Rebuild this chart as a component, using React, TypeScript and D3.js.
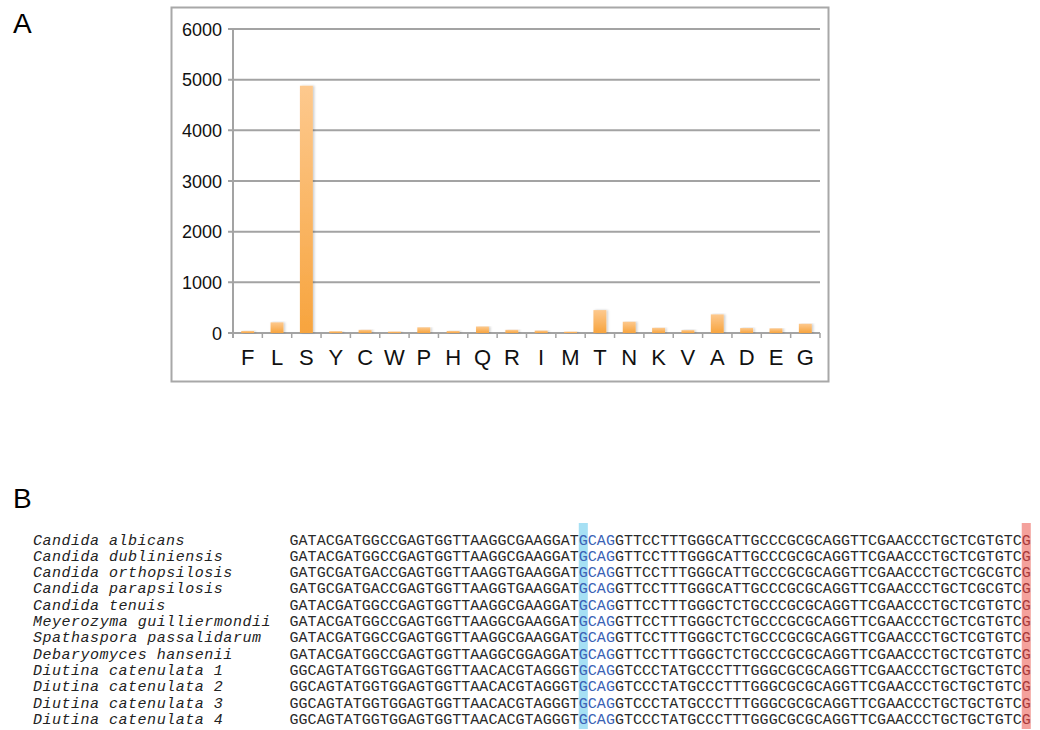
import React from "react";
import * as d3 from "d3";

const categories = ["F","L","S","Y","C","W","P","H","Q","R","I","M","T","N","K","V","A","D","E","G"];
const counts = [40,210,4880,35,62,28,112,40,128,62,48,26,452,222,102,57,367,98,92,182];
const yTicks = [0,1000,2000,3000,4000,5000,6000];

const species = [
  "Candida albicans",
  "Candida dubliniensis",
  "Candida orthopsilosis",
  "Candida parapsilosis",
  "Candida tenuis",
  "Meyerozyma guilliermondii",
  "Spathaspora passalidarum",
  "Debaryomyces hansenii",
  "Diutina catenulata 1",
  "Diutina catenulata 2",
  "Diutina catenulata 3",
  "Diutina catenulata 4",
];
const sequences = [
  "GATACGATGGCCGAGTGGTTAAGGCGAAGGATGCAGGTTCCTTTGGGCATTGCCCGCGCAGGTTCGAACCCTGCTCGTGTCG",
  "GATACGATGGCCGAGTGGTTAAGGCGAAGGATGCAGGTTCCTTTGGGCATTGCCCGCGCAGGTTCGAACCCTGCTCGTGTCG",
  "GATGCGATGACCGAGTGGTTAAGGTGAAGGATGCAGGTTCCTTTGGGCATTGCCCGCGCAGGTTCGAACCCTGCTCGCGTCG",
  "GATGCGATGACCGAGTGGTTAAGGTGAAGGATGCAGGTTCCTTTGGGCATTGCCCGCGCAGGTTCGAACCCTGCTCGCGTCG",
  "GATACGATGGCCGAGTGGTTAAGGCGAAGGATGCAGGTTCCTTTGGGCTCTGCCCGCGCAGGTTCGAACCCTGCTCGTGTCG",
  "GATACGATGGCCGAGTGGTTAAGGCGAAGGATGCAGGTTCCTTTGGGCTCTGCCCGCGCAGGTTCGAACCCTGCTCGTGTCG",
  "GATACGATGGCCGAGTGGTTAAGGCGAAGGATGCAGGTTCCTTTGGGCTCTGCCCGCGCAGGTTCGAACCCTGCTCGTGTCG",
  "GATACGATGGCCGAGTGGTTAAGGCGGAGGATGCAGGTTCCTTTGGGCTCTGCCCGCGCAGGTTCGAACCCTGCTCGTGTCG",
  "GGCAGTATGGTGGAGTGGTTAACACGTAGGGTGCAGGTCCCTATGCCCTTTGGGCGCGCAGGTTCGAACCCTGCTGCTGTCG",
  "GGCAGTATGGTGGAGTGGTTAACACGTAGGGTGCAGGTCCCTATGCCCTTTGGGCGCGCAGGTTCGAACCCTGCTGCTGTCG",
  "GGCAGTATGGTGGAGTGGTTAACACGTAGGGTGCAGGTCCCTATGCCCTTTGGGCGCGCAGGTTCGAACCCTGCTGCTGTCG",
  "GGCAGTATGGTGGAGTGGTTAACACGTAGGGTGCAGGTCCCTATGCCCTTTGGGCGCGCAGGTTCGAACCCTGCTGCTGTCG",
];
const blueCol = 32;
const blueTextCols = [32, 33, 34, 35];
const redCol = 81;

export default function App() {
  const x = d3.scaleBand<string>().domain(categories).range([233, 820]).padding(0);
  const y = d3.scaleLinear().domain([0, 6000]).range([333, 29]);
  const barW = x.bandwidth() * 0.44;
  const axisColor = "#a3a3a3";

  const nCols = sequences[0].length;
  const col = d3.scaleBand<number>().domain(d3.range(nCols)).range([289.5, 289.5 + nCols * 9.04]);
  const row = d3.scalePoint<number>().domain(d3.range(species.length)).range([544.5, 724]);

  const sans = "'Liberation Sans', Arial, Helvetica, sans-serif";
  const mono = "'Courier New', 'Liberation Mono', monospace";

  return (
    <svg width={1040} height={730} style={{ position: "absolute", left: 0, top: 0, background: "#fff" }}>
      <defs>
        <linearGradient id="barGrad" x1="0" y1="0" x2="0" y2="1">
          <stop offset="0%" stopColor="#fdc98e" />
          <stop offset="100%" stopColor="#f7a43e" />
        </linearGradient>
        <filter id="shadow" x="-30%" y="-5%" width="180%" height="110%">
          <feDropShadow dx="1.5" dy="0" stdDeviation="1" floodColor="#000" floodOpacity="0.2" />
        </filter>
      </defs>

      <text x={13} y={33} fontFamily={sans} fontSize={28} fill="#000">A</text>
      <rect x={171.5} y={7.5} width={657} height={374} fill="none" stroke="#a8a8a8" strokeWidth={2} />

      {yTicks.map((t) => (
        <g key={t}>
          <line x1={228} x2={820} y1={y(t)} y2={y(t)} stroke={axisColor} strokeWidth={2} />
          <text x={222} y={y(t) + 6.5} textAnchor="end" fontFamily={sans} fontSize={18} fill="#111">{t}</text>
        </g>
      ))}
      <line x1={233} x2={233} y1={y(6000)} y2={338} stroke={axisColor} strokeWidth={2} />
      {categories.map((c) => (
        <line key={"t" + c} x1={(x(c) as number) + x.bandwidth()} x2={(x(c) as number) + x.bandwidth()} y1={333} y2={338} stroke={axisColor} strokeWidth={1.5} />
      ))}

      {categories.map((c, i) => {
        const cx = (x(c) as number) + x.bandwidth() / 2;
        return (
          <rect key={"b" + c} x={cx - barW / 2} y={y(counts[i])} width={barW} height={y(0) - y(counts[i])}
            fill="url(#barGrad)" filter="url(#shadow)" />
        );
      })}
      {categories.map((c) => (
        <text key={"l" + c} x={(x(c) as number) + x.bandwidth() / 2} y={365} textAnchor="middle" fontFamily={sans} fontSize={22} fill="#111">{c}</text>
      ))}

      <text x={13} y={508} fontFamily={sans} fontSize={28} fill="#000">B</text>

      <rect x={col(blueCol)} y={523} width={col.bandwidth()} height={206} fill="#a6e0f4" />
      <rect x={col(redCol)} y={523} width={col.bandwidth()} height={206} fill="#f4a19c" />

      {species.map((s, i) => (
        <text key={"s" + i} x={33} y={row(i)} fontFamily={mono} fontStyle="italic" fontSize={15}
          textLength={s.length * 9.56 - 1.5} lengthAdjust="spacing" fill="#222">{s}</text>
      ))}

      {sequences.map((seq, i) => (
        <g key={"q" + i}>
          {seq.split("").map((ch, j) => {
            let fill = "#2a2a2a";
            if (blueTextCols.includes(j)) fill = "#3a62b5";
            if (j === redCol) fill = "#a83a3a";
            return (
              <text key={j} x={(col(j) as number) + col.bandwidth() / 2} y={row(i)} textAnchor="middle"
                fontFamily={mono} fontSize={15} fill={fill}>{ch}</text>
            );
          })}
        </g>
      ))}
    </svg>
  );
}
